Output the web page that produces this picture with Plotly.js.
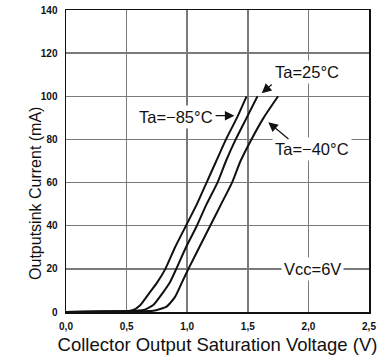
<!DOCTYPE html>
<html>
<head>
<meta charset="utf-8">
<script src="https://cdn.plot.ly/plotly-3.0.1.min.js"></script>
<style>
  html, body { margin: 0; padding: 0; background: #fff; }
  #chart { width: 386px; height: 360px; }
</style>
</head>
<body>
<div id="chart"></div>
<script>
// Output sink current vs. collector output saturation voltage, Vcc = 6 V
const voltsM85 = [0, 0.30, 0.50, 0.55, 0.61, 0.69, 0.75, 0.82, 0.90, 0.99, 1.08, 1.16, 1.24, 1.32, 1.41, 1.49];
const currM85  = [0, 0.2, 0.4, 0.8, 3, 9, 13.5, 20, 30, 40, 50, 60, 70, 80, 90, 100];

const volts25 = [0, 0.30, 0.50, 0.64, 0.72, 0.80, 0.86, 0.91, 0.99, 1.08, 1.16, 1.25, 1.32, 1.40, 1.49, 1.58];
const curr25  = [0, 0.2, 0.4, 0.9, 3.2, 9, 14, 20, 30, 40, 50, 60, 70, 80, 90, 100];

const voltsM40 = [0, 0.30, 0.50, 0.72, 0.83, 0.90, 0.955, 1.01, 1.10, 1.19, 1.28, 1.37, 1.44, 1.53, 1.63, 1.75];
const currM40  = [0, 0.2, 0.4, 0.6, 2.5, 7, 13.5, 20, 30, 40, 50, 60, 70, 80, 90, 100];

const xTicks = [0, 0.5, 1.0, 1.5, 2.0, 2.5];
const yTicks = [0, 20, 40, 60, 80, 100, 120, 140];

const FONT = 'Liberation Sans, Arial, Helvetica, sans-serif';

function curve(x, y, name) {
  return {
    x: x, y: y, name: name, type: 'scatter', mode: 'lines',
    line: { color: '#111', width: 2, shape: 'spline', smoothing: 0.5 },
    hoverinfo: 'skip'
  };
}

const traces = [
  curve(voltsM85, currM85, 'Ta=−85°C'),
  curve(volts25, curr25, 'Ta=25°C'),
  curve(voltsM40, currM40, 'Ta=−40°C')
];

function label(text, x, y) {
  return {
    text: text, x: x, y: y, xref: 'x', yref: 'y', showarrow: false,
    font: { family: FONT, size: 16.5, color: '#111' },
    bgcolor: '#fff', borderpad: 2
  };
}

function pointer(tailX, tailY, headX, headY) {
  return {
    text: '', x: headX, y: headY, ax: tailX, ay: tailY,
    xref: 'x', yref: 'y', axref: 'x', ayref: 'y',
    showarrow: true, arrowhead: 2, arrowsize: 1.6, arrowwidth: 1.2,
    arrowcolor: '#111', standoff: 0, startstandoff: 0
  };
}

const annotations = [
  label('Ta=25°C', 1.99, 111.3),
  label('Ta=−85°C', 0.906, 90.4),
  label('Ta=−40°C', 2.026, 75.4),
  label('Vcc=6V', 2.034, 19.9),
  pointer(1.71, 106.1, 1.615, 101.4),
  pointer(1.222, 91.0, 1.39, 91.0),
  pointer(1.848, 79.6, 1.669, 88.0),
  {
    text: 'Outputsink Current (mA)', textangle: -90,
    xref: 'paper', yref: 'y', x: -0.135, y: 55, showarrow: false,
    font: { family: FONT, size: 16, color: '#111' }
  }
];

const axisCommon = {
  showline: true, mirror: true, linecolor: '#111', linewidth: 1.5,
  showgrid: true, gridcolor: '#7a7a7a', gridwidth: 1.5,
  zeroline: false, ticks: '',
  tickfont: { family: FONT, size: 10, color: '#111', weight: 'bold' }
};

const layout = {
  width: 386, height: 360,
  margin: { l: 66, r: 17, t: 10, b: 48 },
  paper_bgcolor: '#fff', plot_bgcolor: '#fff',
  showlegend: false,
  separators: ',.',
  xaxis: Object.assign({}, axisCommon, {
    range: [0, 2.5], tickvals: xTicks, tickformat: '.1f',
    ticklabelstandoff: 4,
    title: { text: 'Collector Output Saturation Voltage (V)', standoff: 7,
             font: { family: FONT, size: 18.5, color: '#111' } }
  }),
  yaxis: Object.assign({}, axisCommon, {
    range: [0, 140], tickvals: yTicks,
    ticklabelstandoff: 5
  }),
  annotations: annotations
};

Plotly.newPlot('chart', traces, layout, { staticPlot: true, displayModeBar: false });
</script>
</body>
</html>
